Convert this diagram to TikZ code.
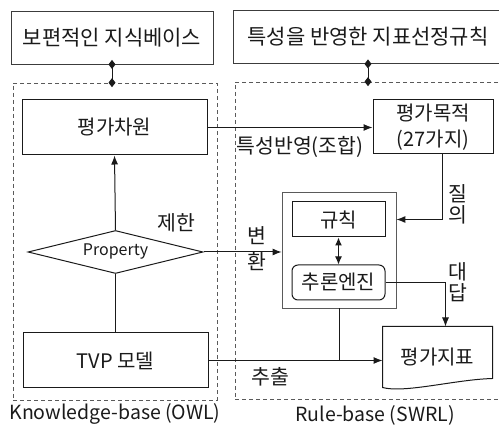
\documentclass[tikz,border=0pt]{standalone}
\usepackage{fontspec}
\setmainfont{Noto Sans CJK KR}
\usepackage{xcolor}
\usepackage{tikz}
\usetikzlibrary{arrows.meta,positioning,calc,shapes.geometric}
\definecolor{ink}{HTML}{1A1A1A}
\definecolor{rim}{HTML}{5A5A5A}
\tikzset{
  >=Latex,
  every node/.style={text=ink},
  head/.style={draw=ink!85,line width=0.8pt,minimum height=53pt,inner sep=0pt,font=\fontsize{21}{24}\selectfont},
  zone/.style={draw=rim,dash pattern=on 4pt off 3pt,line width=0.7pt,inner sep=0pt},
  comp/.style={draw=ink,line width=1pt,inner sep=0pt,align=center,font=\fontsize{20}{24}\selectfont},
  cond/.style={comp,diamond,aspect=4,font=\fontsize{16}{18}\selectfont},
  ruleset/.style={draw=rim,line width=0.8pt,inner sep=0pt},
  caption/.style={inner sep=0pt,font=\fontsize{19.5}{22}\selectfont},
  lbl/.style={inner sep=0pt,align=center,font=\fontsize{20.5}{21}\selectfont},
  arrow/.style={-{Latex[length=9pt,width=7pt]},line width=1pt,draw=ink},
  twoway/.style={arrows={Latex[length=8pt,width=7pt]-Latex[length=8pt,width=7pt]},line width=1pt,draw=ink},
  plain/.style={line width=1pt,draw=ink},
  tie/.style={arrows={Diamond[length=9pt,width=7pt]-Diamond[length=9pt,width=7pt]},shorten <=-4.5pt,shorten >=-4.5pt,line width=1pt,draw=ink}
}

\begin{document}
\begin{tikzpicture}[x=1pt,y=-1pt]
  \useasboundingbox (0,0) rectangle (499,430);

  % headers and the two dashed zones
  \node[head,minimum width=202pt] (kbhead) at (112,37.5) {보편적인 지식베이스};
  \node[head,minimum width=270pt] (rbhead) at (368,37) {특성을 반영한 지표선정규칙};
  \node[zone,minimum width=204pt,minimum height=317pt] (kbzone) at (115,241.5) {};
  \node[zone,minimum width=267pt,minimum height=317pt] (rbzone) at (368.5,240.5) {};
  \node[caption] (kbcap) at (115,414) {Knowledge-base (OWL)};
  \node[caption] (rbcap) at (375,415) {Rule-base (SWRL)};

  \draw[tie] (kbhead.south) -- (kbhead.south |- kbzone.north);
  \draw[tie] (rbhead.south) -- (rbhead.south |- rbzone.north);

  % knowledge side
  \node[comp,minimum width=185pt,minimum height=55pt] (dim) at (114.5,127.5) {평가차원};
  \node[cond,minimum width=175pt,minimum height=43pt] (prop) at (115.5,252) {Property};
  \node[comp,minimum width=185pt,minimum height=55pt] (tvp) at (115.5,360.5) {TVP 모델};

  % rule side
  \node[comp,minimum width=120pt,minimum height=54pt,font=\fontsize{20}{26}\selectfont] (goal) at (433,127) {평가목적\\(27가지)};
  \node[ruleset,minimum width=114pt,minimum height=116pt] (rulebox) at (339,250) {};
  \node[comp,minimum width=93pt,minimum height=35pt] (rule) at (338.5,219.5) {규칙};
  \node[comp,rounded corners=6pt,minimum width=93pt,minimum height=35pt] (engine) at (338.5,282.5) {추론엔진};
  \node[comp,draw=none,minimum width=109pt,minimum height=60pt] (index) at (437.5,357) {평가지표};
  \draw[line width=1pt,draw=ink] (index.north west) -- (index.north east)
    -- ($(index.south east)+(0,-9)$)
    .. controls ($(index.south east)+(-37,-8)$) and ($(index.south west)+(22,6)$) .. (index.south west)
    -- cycle;

  % connectors
  \draw[arrow] (prop.north) -- (dim.south);
  \draw[plain] (prop.south) -- (tvp.north);
  \draw[arrow] (dim.east) -- (dim.east -| goal.west);
  \draw[arrow] ([xshift=9pt]goal.south) |- (rule -| rulebox.east);
  \draw[arrow] (prop.east) -- (prop.east -| rulebox.west);
  \draw[twoway] (rule.south) -- (engine.north);
  \draw[arrow] (engine.east) -| ([xshift=8pt]index.north);
  \draw[arrow] (tvp.east) -- (tvp.east -| index.west);
  \draw[plain] (rulebox.south) -- (rulebox.south |- tvp.east);

  % connector labels
  \node[lbl] (limit) at (176,223) {제한};
  \node[lbl] (mix) at (300,147) {특성반영(조합)};
  \node[lbl] (conv) at (257,249) {변\\[5pt]환};
  \node[lbl] (ask) at (458,204.5) {질\\의};
  \node[lbl] (reply) at (458,282.5) {대\\답};
  \node[lbl] (pull) at (270,377) {추출};
\end{tikzpicture}
\end{document}
